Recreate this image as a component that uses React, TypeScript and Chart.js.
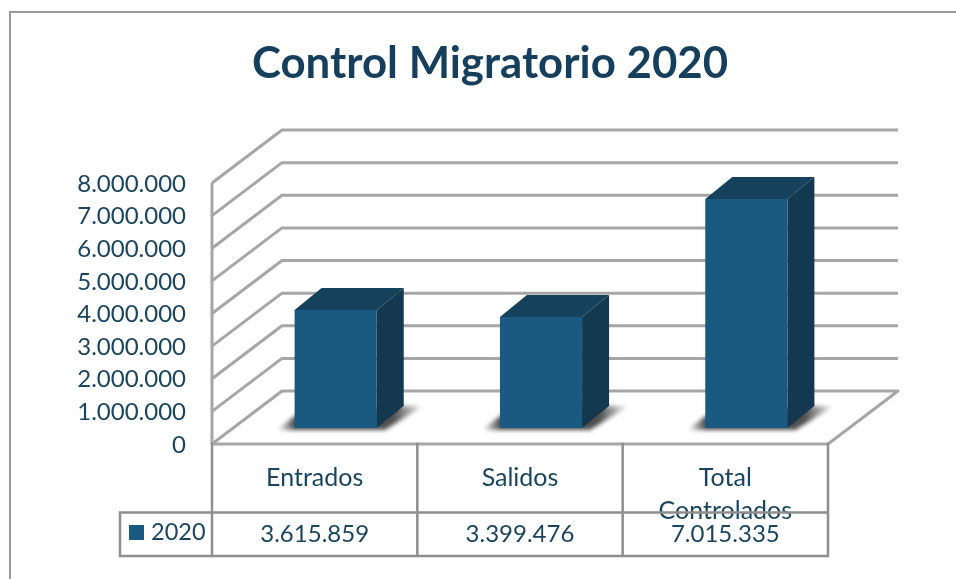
import React, { useEffect, useRef } from "react";
import { Chart, registerables } from "chart.js";

Chart.register(...registerables);

const CHART_TITLE = "Control Migratorio 2020";
const SERIES_NAME = "2020";
const categories = ["Entrados", "Salidos", ["Total", "Controlados"]];
const seriesValues = [3615859, 3399476, 7015335];
const Y_MAX = 8000000;
const Y_STEP = 1000000;

const TEXT = "#1a4560";
const TITLE_COLOR = "#153f5c";
const FRONT = "#1b5a80";
const SIDE = "#14384f";
const TOP = "#15415c";
const GRID = "#a6a6a6";
const TABLE = "#8e8e8e";
const FONT = "Lato";
const FONT_SIZE = 24;

const BACK_DX = 70;
const BACK_DY = -53;
const BAR_DX = 21;
const BAR_DY = -16;
const SIDE_DX = 27;
const SIDE_DY = -22;

const fmt = (v: number) => String(v).replace(/\B(?=(\d{3})+(?!\d))/g, ".");

const threeD = {
  id: "threeD",
  afterLayout(chart: any) {
    chart.titleBlock.left = 24;
    chart.titleBlock.right = chart.width;
  },
  beforeDraw(chart: any) {
    const c = chart.ctx;
    c.save();
    c.fillStyle = "#fff";
    c.fillRect(0, 0, chart.width, chart.height);
    c.strokeStyle = "#9a9a9a";
    c.lineWidth = 2;
    c.beginPath();
    c.moveTo(10, chart.height);
    c.lineTo(10, 12);
    c.lineTo(chart.width, 12);
    c.stroke();
    c.restore();
  },
  beforeDatasetsDraw(chart: any) {
    const c = chart.ctx;
    const { left, right } = chart.chartArea;
    const y = chart.scales.y;
    c.save();
    c.strokeStyle = GRID;
    c.lineWidth = 3;
    c.lineJoin = "round";
    y.ticks.forEach((t: any) => {
      const py = y.getPixelForValue(t.value);
      c.beginPath();
      c.moveTo(left, py);
      c.lineTo(left + BACK_DX, py + BACK_DY);
      c.lineTo(right + BACK_DX, py + BACK_DY);
      if (t.value === 0) {
        c.lineTo(right, py);
        c.lineTo(left, py);
      }
      c.stroke();
    });
    c.beginPath();
    c.moveTo(left, y.getPixelForValue(0));
    c.lineTo(left, y.getPixelForValue(Y_MAX));
    c.stroke();
    const meta = chart.getDatasetMeta(0);
    meta.data.forEach((bar: any) => {
      const x0 = bar.x - bar.width / 2 + BAR_DX;
      const x1 = bar.x + bar.width / 2 + BAR_DX;
      const b = bar.base + BAR_DY;
      const g = c.createLinearGradient(x0 - 18, 0, x1 + SIDE_DX + 20, 0);
      const w = bar.width + SIDE_DX + 38;
      g.addColorStop(0, "rgba(60,60,60,0)");
      g.addColorStop(18 / w, "rgba(60,60,60,0.9)");
      g.addColorStop(1 - 30 / w, "rgba(60,60,60,0.9)");
      g.addColorStop(1, "rgba(60,60,60,0)");
      c.save();
      c.filter = "blur(2px)";
      c.fillStyle = g;
      c.beginPath();
      c.moveTo(x0 - 18, b + 2);
      c.lineTo(x0, b - 12);
      c.lineTo(x1 + SIDE_DX, b + SIDE_DY);
      c.lineTo(x1 + SIDE_DX + 20, b + SIDE_DY);
      c.lineTo(x1 + 8, b + 2);
      c.closePath();
      c.fill();
      c.restore();
    });
    c.restore();
  },
  beforeDatasetDraw(chart: any) {
    const c = chart.ctx;
    const meta = chart.getDatasetMeta(0);
    c.save();
    meta.data.forEach((bar: any) => {
      const x0 = bar.x - bar.width / 2 + BAR_DX;
      const x1 = bar.x + bar.width / 2 + BAR_DX;
      const t = bar.y + BAR_DY;
      const b = bar.base + BAR_DY;
      c.fillStyle = TOP;
      c.beginPath();
      c.moveTo(x0, t);
      c.lineTo(x0 + SIDE_DX, t + SIDE_DY);
      c.lineTo(x1 + SIDE_DX, t + SIDE_DY);
      c.lineTo(x1, t);
      c.closePath();
      c.fill();
      c.fillStyle = SIDE;
      c.beginPath();
      c.moveTo(x1, t);
      c.lineTo(x1 + SIDE_DX, t + SIDE_DY);
      c.lineTo(x1 + SIDE_DX, b + SIDE_DY);
      c.lineTo(x1, b);
      c.closePath();
      c.fill();
    });
    c.restore();
    c.save();
    c.translate(BAR_DX, BAR_DY);
  },
  afterDatasetDraw(chart: any) {
    chart.ctx.restore();
  },
  afterDraw(chart: any) {
    const c = chart.ctx;
    const x = chart.scales.x;
    const y0 = chart.chartArea.bottom;
    const rowTop = 512.5;
    const rowBottom = 556;
    const legendLeft = 120;
    const cell = (x.getPixelForValue(1) - x.getPixelForValue(0)) / 2;
    const edges = [x.left, ...seriesValues.map((_, i) => x.getPixelForValue(i) + cell)];
    c.save();
    c.strokeStyle = TABLE;
    c.lineWidth = 2.5;
    c.lineCap = "square";
    c.beginPath();
    edges.forEach((e) => {
      c.moveTo(e, y0);
      c.lineTo(e, rowBottom);
    });
    c.moveTo(legendLeft, rowTop);
    c.lineTo(x.right, rowTop);
    c.moveTo(legendLeft, rowBottom);
    c.lineTo(x.right, rowBottom);
    c.moveTo(legendLeft, rowTop);
    c.lineTo(legendLeft, rowBottom);
    c.stroke();
    c.fillStyle = TEXT;
    c.font = `${FONT_SIZE}px ${FONT}`;
    c.textAlign = "center";
    c.textBaseline = "middle";
    seriesValues.forEach((v, i) => {
      c.fillText(fmt(v), x.getPixelForValue(i), 534.5);
    });
    c.textAlign = "left";
    c.font = `${FONT_SIZE - 0.5}px ${FONT}`;
    c.fillText(SERIES_NAME, 151, 532.5);
    c.fillStyle = FRONT;
    c.fillRect(129, 525, 15, 15);
    c.restore();
  },
};

export default function App() {
  const ref = useRef<HTMLCanvasElement>(null);
  useEffect(() => {
    const chart = new Chart(ref.current as HTMLCanvasElement, {
      type: "bar",
      plugins: [threeD],
      data: {
        labels: categories as any,
        datasets: [
          {
            label: SERIES_NAME,
            data: seriesValues,
            backgroundColor: FRONT,
            barPercentage: 0.4,
            categoryPercentage: 1,
            clip: false,
          } as any,
        ],
      },
      options: {
        animation: false,
        responsive: false,
        layout: { padding: { left: 0, right: 128, top: 0, bottom: 35 } },
        plugins: {
          legend: { display: false },
          tooltip: { enabled: false },
          title: {
            display: true,
            text: CHART_TITLE,
            color: TITLE_COLOR,
            font: { family: FONT, size: 43.8, weight: "bold", lineHeight: 1.2 },
            padding: { top: 38, bottom: 183 - 38 - 43.8 * 1.2 },
          },
        },
        scales: {
          x: {
            grid: { display: false, drawTicks: false },
            border: { display: false },
            afterFit: (s: any) => {
              s.height = 100;
            },
            ticks: {
              color: TEXT,
              font: { family: FONT, size: 25, lineHeight: 1.34 },
              padding: 17,
              autoSkip: false,
              maxRotation: 0,
            },
          },
          y: {
            min: 0,
            max: Y_MAX,
            grid: { display: false, drawTicks: false },
            border: { display: false },
            afterFit: (s: any) => {
              s.width = 212;
            },
            ticks: {
              stepSize: Y_STEP,
              color: TEXT,
              font: { family: FONT, size: FONT_SIZE },
              padding: 26,
              labelOffset: 1,
              callback: (v: any) => fmt(Number(v)),
            },
          },
        },
      },
    });
    return () => chart.destroy();
  }, []);
  return (
    <div style={{ position: "absolute", left: 0, top: 0, width: 956, height: 579 }}>
      <canvas ref={ref} width={956} height={579} style={{ display: "block" }} />
    </div>
  );
}
